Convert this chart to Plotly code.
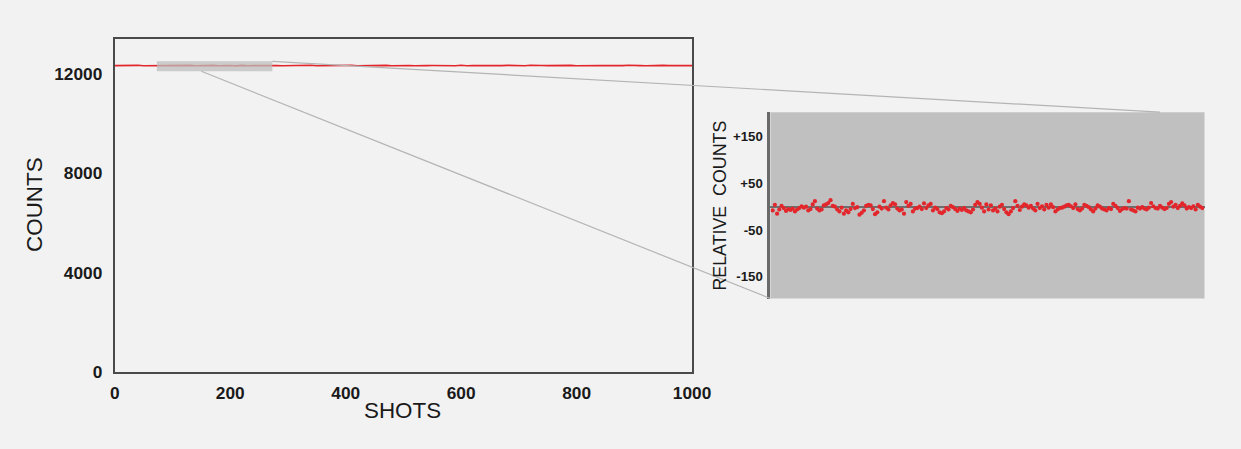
import plotly.graph_objects as go

# ---------------- data ----------------
main_shots_step = 10
main_counts = [
    12348, 12356, 12341, 12353, 12360, 12345, 12350, 12338, 12355, 12349,
    12362, 12344, 12351, 12357, 12340, 12352, 12347, 12359, 12343, 12354,
    12350, 12336, 12358, 12346, 12353, 12361, 12342, 12349, 12355, 12344,
    12352, 12339, 12357, 12348, 12363, 12345, 12350, 12341, 12356, 12347,
    12353, 12360, 12343, 12351, 12337, 12354, 12349, 12358, 12344, 12352,
    12346, 12355, 12340, 12359, 12348, 12351, 12343, 12357, 12350, 12345,
    12362, 12341, 12353, 12347, 12356, 12339, 12352, 12349, 12358, 12344,
    12351, 12346, 12360, 12342, 12354, 12348, 12355, 12338, 12350, 12357,
    12345, 12353, 12341, 12359, 12347, 12352, 12344, 12356, 12349, 12361,
    12343, 12350, 12346, 12355, 12340, 12358, 12348, 12353, 12345, 12351,
    12349,
]
main_shots = [i * main_shots_step for i in range(len(main_counts))]

inset_first_shot = 73
relative_counts = [
    -8, 4, -15, -6, 2, -3, -9, -5, -7, -4, -10, -6, -3, 1, -2, 0, -8, -5, 5, 12,
    -4, -8, -6, 3, 5, 8, 14, 2, 0, -6, -10, -2, -15, -8, -12, -5, 6, -3, -1, -17,
    -13, -8, 2, 4, 3, -5, -16, -12, 0, -4, 12, -2, -6, 3, 8, 5, -4, -8, -6, -15,
    10, 2, 6, -10, -4, -3, 0, -5, 7, -3, 3, 6, -8, -2, -5, -12, -14, -10, -3, -6,
    2, -1, -5, -9, -4, -7,
    -3, -8, -10, -12, -6, 4, 10, 6, -2, -10, 5, -6, 3, -8, -4, -10, 0, 4, -5, -12,
    -16, -10, -3, 12, 2, -7, 0, 5, 3, -2, 2, -4, -8, 6, -3, 1, -6, 4, -2, 5,
    -1, -10, -6, -3, -2, 0, 3, 4, 1, -3, 5, -5, -8, -4, 4, 2, -1, -6, -10, -4,
    3, 0, -4, -6, -8, -3, -5, 6, 2, -3, -9, -5, -3, -4, 12, -6, -8, -10, -2, -4,
    -1, -4, -6, -2, 8, 1, -3, -4, 2, -2, -5, -3, 6, 10, 0, 4, -3, 2, 7, 3,
    -4, -1, -3, 1, -6, 4, 0, -3,
]
inset_shots = [inset_first_shot + i for i in range(len(relative_counts))]

main_xticks = [0, 200, 400, 600, 800, 1000]
main_xticktext = ["0", "200", "400", "600", "800", "1000"]
main_yticks = [0, 4000, 8000, 12000]
main_yticktext = ["0", "4000", "8000", "12000"]
inset_yticks = [150, 50, -50, -150]
inset_yticktext = ["+150", "+50", "-50", "-150"]

zoom_box_x = [73, 273]
zoom_box_y = [12120, 12520]

# ---------------- layout geometry ----------------
# target positions are given in picture pixels; the page is drawn slightly
# larger than the picture (S = picture px per page px), so scale accordingly
PIC_W, PIC_H = 1241, 449
S = 0.983
DX = -3.0
FW, FH = round(PIC_W / S), round(PIC_H / S)


def fx(px):
    return ((px + DX) / S) / FW


def fy(py):
    return 1 - (py / S) / FH


def fs(size):
    return size / S


main_dx = [fx(113), fx(691.5)]
main_dy = [fy(373.5), fy(39)]
main_xr = [0, 1000]
main_yr = [0, 13430]
ins_dx = [fx(770), fx(1205)]
ins_dy = [fy(300), fy(112.7)]
ins_xr = [inset_first_shot - 1, inset_first_shot + len(relative_counts)]
ins_yr = [-197, 203]


def main_px(x):
    return main_dx[0] + (x - main_xr[0]) / (main_xr[1] - main_xr[0]) * (main_dx[1] - main_dx[0])


def main_py(y):
    return main_dy[0] + (y - main_yr[0]) / (main_yr[1] - main_yr[0]) * (main_dy[1] - main_dy[0])


FONT = "Liberation Sans, Arial, sans-serif"
RED = "#e3262b"
BG = "#f2f2f2"
TXT = "#1a1a1a"

fig = go.Figure()

fig.add_trace(go.Scatter(
    x=main_shots, y=main_counts, mode="lines",
    line=dict(color=RED, width=1.6), xaxis="x", yaxis="y",
    hoverinfo="skip", showlegend=False,
))

fig.add_trace(go.Scatter(
    x=inset_shots, y=relative_counts, mode="markers",
    marker=dict(color=RED, size=4.2), xaxis="x2", yaxis="y2",
    showlegend=False,
))

fig.update_layout(
    width=FW, height=FH, autosize=False,
    margin=dict(l=0, r=0, t=0, b=0),
    paper_bgcolor=BG, plot_bgcolor=BG,
    font=dict(family=FONT, color=TXT),
    xaxis=dict(
        domain=main_dx, range=main_xr, tickvals=main_xticks, ticktext=main_xticktext,
        showgrid=False, zeroline=False, showline=True, mirror=True,
        linecolor="#4a4a4a", linewidth=2, ticks="",
        tickfont=dict(size=fs(17), family=FONT, weight="bold", color=TXT),
        ticklabelstandoff=5, anchor="y",
    ),
    yaxis=dict(
        domain=main_dy, range=main_yr, tickvals=main_yticks, ticktext=main_yticktext,
        showgrid=False, zeroline=False, showline=True, mirror=True,
        linecolor="#4a4a4a", linewidth=2, ticks="",
        tickfont=dict(size=fs(17), family=FONT, weight="bold", color=TXT),
        ticklabelstandoff=7, anchor="x",
    ),
    xaxis2=dict(
        domain=ins_dx, range=ins_xr, showgrid=False, zeroline=False,
        showline=False, showticklabels=False, ticks="", anchor="y2",
    ),
    yaxis2=dict(
        domain=ins_dy, range=ins_yr, tickvals=inset_yticks, ticktext=inset_yticktext,
        showgrid=False, zeroline=True, zerolinecolor="#6e6e6e", zerolinewidth=2,
        showline=True, linecolor="#6a6a6a", linewidth=3, ticks="",
        tickfont=dict(size=fs(13), family=FONT, weight="bold", color=TXT),
        ticklabelstandoff=2, anchor="x2",
    ),
)

shapes = []
# inset background
shapes.append(dict(type="rect", xref="x2 domain", yref="y2 domain", x0=0, x1=1, y0=0, y1=1,
                   fillcolor="#c0c0c0", line=dict(width=0), layer="below"))
# zoom box on main plot
shapes.append(dict(type="rect", xref="x", yref="y", x0=zoom_box_x[0], x1=zoom_box_x[1],
                   y0=zoom_box_y[0], y1=zoom_box_y[1], fillcolor="#bdbdbd", opacity=0.75,
                   line=dict(width=0), layer="above"))
# connector lines
shapes.append(dict(type="line", xref="paper", yref="paper",
                   x0=main_px(zoom_box_x[1]), y0=main_py(zoom_box_y[1]),
                   x1=ins_dx[0] + 0.897 * (ins_dx[1] - ins_dx[0]), y1=ins_dy[1],
                   line=dict(color="#b4b4b4", width=1.2)))
shapes.append(dict(type="line", xref="paper", yref="paper",
                   x0=main_px(150), y0=main_py(zoom_box_y[0]),
                   x1=ins_dx[0], y1=ins_dy[0],
                   line=dict(color="#b4b4b4", width=1.2)))
fig.update_layout(shapes=shapes)

annotations = [
    dict(text="COUNTS", xref="paper", yref="paper", x=fx(33), y=fy(206),
         textangle=-90, showarrow=False, xanchor="center", yanchor="middle",
         font=dict(size=fs(22), family=FONT, color=TXT)),
    dict(text="SHOTS", xref="paper", yref="paper", x=fx(401), y=fy(413),
         showarrow=False, xanchor="center", yanchor="middle",
         font=dict(size=fs(22), family=FONT, color=TXT)),
    dict(text="RELATIVE  COUNTS", xref="paper", yref="paper", x=fx(719), y=fy(207),
         textangle=-90, showarrow=False, xanchor="center", yanchor="middle",
         font=dict(size=fs(17.5), family=FONT, color=TXT)),
]
fig.update_layout(annotations=annotations)

post = (
    "document.body.style.margin='0';"
    "document.body.style.padding='0';"
    "document.body.style.background='" + BG + "';"
    "document.documentElement.style.background='" + BG + "';"
    "document.body.style.overflow='hidden';"
)
fig.write_html("out.html", post_script=post,
               config={"displayModeBar": False, "responsive": False})
